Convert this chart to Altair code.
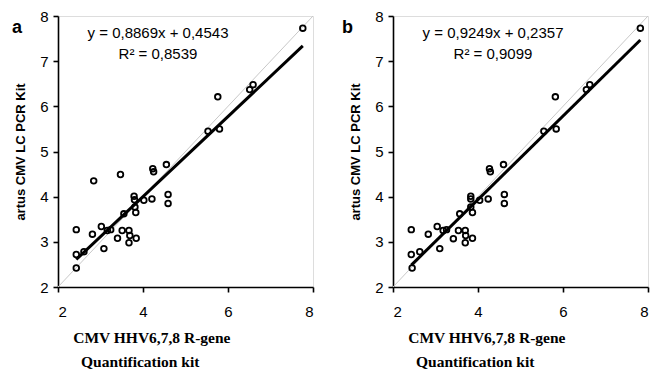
import altair as alt
import pandas as pd

# Panel a data (x: CMV HHV6,7,8 R-gene, y: artus CMV LC PCR Kit), log values
xa = [2.43, 2.43, 2.43, 2.61, 2.81, 2.84, 3.02, 3.08, 3.16, 3.24, 3.40, 3.47,
      3.51, 3.55, 3.67, 3.67, 3.69, 3.79, 3.80, 3.81, 3.83, 3.84, 4.02, 4.21,
      4.23, 4.25, 4.55, 4.59, 4.59, 5.53, 5.76, 5.80, 6.51, 6.59, 7.76]
ya = [3.27, 2.72, 2.42, 2.78, 3.17, 4.35, 3.34, 2.85, 3.25, 3.27, 3.08, 4.49,
      3.25, 3.62, 3.25, 2.98, 3.14, 4.01, 3.93, 3.77, 3.65, 3.08, 3.92, 3.95,
      4.62, 4.55, 4.71, 4.05, 3.85, 5.45, 6.21, 5.50, 6.37, 6.48, 7.73]

# Panel b data
xb = [2.43, 2.43, 2.45, 2.63, 2.83, 3.04, 3.10, 3.18, 3.26, 3.42, 3.54, 3.57,
      3.70, 3.70, 3.71, 3.83, 3.83, 3.83, 3.87, 3.87, 4.04, 4.24, 4.27, 4.29,
      4.60, 4.62, 4.62, 5.55, 5.82, 5.84, 6.55, 6.63, 7.82]
yb = [3.27, 2.72, 2.42, 2.78, 3.17, 3.34, 2.85, 3.25, 3.27, 3.07, 3.25, 3.62,
      3.25, 2.98, 3.14, 4.01, 3.95, 3.77, 3.65, 3.08, 3.92, 3.95, 4.62, 4.55,
      4.71, 4.05, 3.85, 5.45, 6.21, 5.50, 6.37, 6.48, 7.73]

slopes = [0.8869, 0.9249]
intercepts = [0.4543, 0.2357]
r2 = [0.8539, 0.9099]
letters = ["a", "b"]
diag = [2, 8]
ticks_x = [2, 4, 6, 8]
ticks_y = [2, 3, 4, 5, 6, 7, 8]
x_title = ["CMV HHV6,7,8 R-gene", "\u200b\u00a0\u00a0Quantification kit"]
y_title = "artus CMV LC PCR Kit"

W, H = 255, 271


def fmt(v):
    return f"{v:.4f}".replace(".", ",")


def panel(xs, ys, k, letter_x):
    pts = pd.DataFrame({"x": xs, "y": ys})
    xe = [min(xs), max(xs)]
    reg = pd.DataFrame({"x": xe, "y": [slopes[k] * v + intercepts[k] for v in xe]})
    dg = pd.DataFrame({"x": diag, "y": diag})

    common = dict(domainColor="black", domainWidth=1.6, tickColor="black", tickWidth=1.6,
                  tickSize=5, labelFont="Liberation Sans", labelFontSize=15,
                  labelColor="black", grid=False)
    xenc = alt.X("x:Q", scale=alt.Scale(domain=[2, 8], nice=False, zero=False),
                 axis=alt.Axis(values=ticks_x, title=x_title, titleFont="Liberation Serif",
                               titleFontSize=15.5, titleFontWeight="bold", titleColor="black",
                               titleAlign="left", titleAnchor="start", titleX=14.7, titleY=55.7,
                               titleBaseline="alphabetic", titleLineHeight=24,
                               labelPadding=12, **common))
    yenc = alt.Y("y:Q", scale=alt.Scale(domain=[2, 8], nice=False, zero=False),
                 axis=alt.Axis(values=ticks_y, title=y_title, titleFont="Liberation Sans",
                               titleFontSize=13, titleFontWeight="bold", titleColor="black",
                               titleAngle=270, titleAlign="center", titleX=-34, titleY=H / 2,
                               titleBaseline="alphabetic", labelPadding=5, **common))

    diag_layer = alt.Chart(dg).mark_line(color="#c8c8c8", strokeWidth=1).encode(x=xenc, y=yenc)
    reg_layer = alt.Chart(reg).mark_line(color="black", strokeWidth=3).encode(x=xenc, y=yenc)
    pt_layer = alt.Chart(pts).mark_point(shape="circle", filled=False, color="black",
                                         strokeWidth=1.8, size=32, opacity=1).encode(x=xenc, y=yenc)

    ann = pd.DataFrame({"t": [f"y = {fmt(slopes[k])}x + {fmt(intercepts[k])}"]})
    ann2 = pd.DataFrame({"t": [f"R\u00b2 = {fmt(r2[k])}"]})
    let = pd.DataFrame({"t": [letters[k]]})
    eq = alt.Chart(ann).mark_text(font="Liberation Sans", fontSize=15, color="black",
                                  align="center", baseline="middle").encode(
        text="t:N", x=alt.value(100), y=alt.value(16.5))
    rr = alt.Chart(ann2).mark_text(font="Liberation Sans", fontSize=15, color="black",
                                   align="center", baseline="middle").encode(
        text="t:N", x=alt.value(100), y=alt.value(37.5))
    lt = alt.Chart(let).mark_text(font="Liberation Sans", fontSize=18, fontWeight="bold",
                                  color="black", align="center", baseline="alphabetic").encode(
        text="t:N", x=alt.value(letter_x), y=alt.value(16.5))

    return alt.layer(diag_layer, reg_layer, pt_layer, eq, rr, lt).properties(width=W, height=H)


chart = alt.hconcat(
    panel(xa, ya, 0, -41),
    panel(xb, yb, 1, -45.5),
    spacing=25,
).properties(
    padding={"left": 11, "top": 8, "right": 5, "bottom": 0}
).configure_view(stroke=None).configure(background="white")

chart.save("out.html", embed_options={"renderer": "svg", "actions": False})
